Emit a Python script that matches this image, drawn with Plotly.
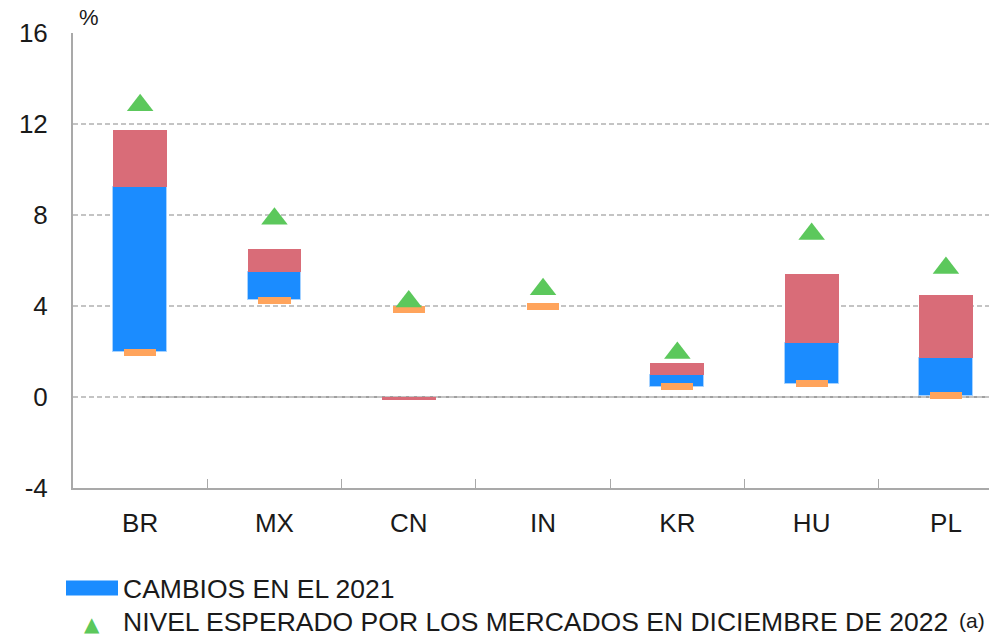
import plotly.graph_objects as go

# ---- data ----
paises = ["BR", "MX", "CN", "IN", "KR", "HU", "PL"]
base_barra = [1.98, 4.25, 0.0, 0.0, 0.44, 0.57, 0.06]          # where the floating bar starts
cambio_2021 = [7.25, 1.24, None, None, 0.53, 1.80, 1.67]        # blue
cambio_2022 = [2.51, 1.01, -0.15, None, 0.52, 3.04, 2.75]       # red
nivel_inicial = [1.97, 4.25, 3.85, 3.99, 0.46, 0.59, 0.07]      # orange dash
nivel_esperado = [12.82, 7.83, 4.20, 4.74, 1.93, 7.16, 5.67]    # green triangle
y_ticks = [-4, 0, 4, 8, 12, 16]

# ---- styling ----
OFF = 8                      # page body margin
W, H = 997 - OFF, 634 - OFF
ML, MR, MT = 73 - OFF, 0, 33 - OFF
MB = H - (488.4 - OFF)
FONT = "Liberation Sans"
TXT = "#1a1a1a"
BLUE = "#1b8cff"
RED = "#d96c78"
ORANGE = "#ffa45c"
GREEN = "#5cc85c"
GRID = "#c4c4c4"
AXIS = "#a9a9a9"

plot_w = W - ML - MR
plot_h = H - MT - MB


def paper(sx, sy):
    """screen pixel -> paper coords"""
    px, py = sx - OFF, sy - OFF
    return (px - ML) / plot_w, (H - MB - py) / plot_h


red_base = [b + (c or 0) for b, c in zip(base_barra, cambio_2021)]
orange_h = 0.3

fig = go.Figure()
fig.add_trace(go.Bar(
    x=paises, y=cambio_2021, base=base_barra, width=0.40,
    marker=dict(color=BLUE, line=dict(color="#a6d2ff", width=1)),
    name="CAMBIOS EN EL 2021", showlegend=False))
fig.add_trace(go.Bar(
    x=paises, y=cambio_2022, base=red_base, width=0.40,
    marker=dict(color=RED, line=dict(width=0)),
    name="CAMBIOS EN EL 2022", showlegend=False))
fig.add_trace(go.Bar(
    x=paises, y=[orange_h] * len(paises),
    base=[v - orange_h / 2 for v in nivel_inicial], width=0.24,
    marker=dict(color=ORANGE, line=dict(width=0)),
    name="NIVEL INICIAL", showlegend=False))
fig.add_trace(go.Scatter(
    x=paises, y=nivel_esperado, mode="markers",
    marker=dict(symbol="triangle-up", size=23, color=GREEN, line=dict(width=0)),
    name="NIVEL ESPERADO", showlegend=False))

# solid zero line starting at the first category
fig.add_shape(type="line", xref="x", yref="y", x0=0, x1=len(paises), y0=0, y1=0,
              line=dict(color="#a0a0a0", width=2), layer="below")

# legend (drawn manually)
x0, y0 = paper(66, 581)
x1, y1 = paper(118, 596)
fig.add_shape(type="rect", xref="paper", yref="paper", x0=x0, x1=x1, y0=y0, y1=y1,
              fillcolor=BLUE, line=dict(width=0))
ax, ay = paper(92, 624.5)
fig.add_annotation(xref="paper", yref="paper", x=ax, y=ay, text="▲", showarrow=False,
                   font=dict(family="DejaVu Sans", size=20, color=GREEN),
                   xanchor="center", yanchor="middle")
tx, ty = paper(121, 589)
fig.add_annotation(xref="paper", yref="paper", x=tx, y=ty, text="CAMBIOS EN EL 2021",
                   showarrow=False, font=dict(family=FONT, size=26.5, color=TXT),
                   xanchor="left", yanchor="middle")
tx, ty = paper(121, 623)
fig.add_annotation(xref="paper", yref="paper", x=tx, y=ty,
                   text="NIVEL ESPERADO POR LOS MERCADOS EN DICIEMBRE DE 2022",
                   showarrow=False, font=dict(family=FONT, size=26.5, color=TXT),
                   xanchor="left", yanchor="middle")
tx, ty = paper(957, 621)
fig.add_annotation(xref="paper", yref="paper", x=tx, y=ty, text="(a)",
                   showarrow=False, font=dict(family=FONT, size=21, color=TXT),
                   xanchor="left", yanchor="middle")
# unit label
tx, ty = paper(89, 17)
fig.add_annotation(xref="paper", yref="paper", x=tx, y=ty, text="%",
                   showarrow=False, font=dict(family=FONT, size=22, color=TXT),
                   xanchor="center", yanchor="middle")

fig.update_layout(
    width=W, height=H,
    margin=dict(l=ML, r=MR, t=MT, b=MB, pad=0),
    paper_bgcolor="white", plot_bgcolor="white",
    barmode="overlay", bargap=0,
    font=dict(family=FONT, size=26, color=TXT),
    showlegend=False,
    xaxis=dict(
        type="category", range=[-0.5, -0.5 + plot_w / 134.3],
        showgrid=False, showline=True, linecolor=AXIS, linewidth=2,
        ticks="inside", tickson="boundaries", ticklen=9, tickwidth=1, tickcolor=AXIS,
        tickfont=dict(size=26, color=TXT), ticklabelstandoff=11,
    ),
    yaxis=dict(
        range=[-4, 16], tickvals=y_ticks, ticktext=[str(v) for v in y_ticks],
        showgrid=True, gridcolor=GRID, gridwidth=1.5, griddash="5px,3px",
        zeroline=False, showline=True, linecolor=AXIS, linewidth=2,
        ticks="", tickfont=dict(size=26, color=TXT), ticklabelstandoff=18,
    ),
)

fig.write_html("out.html",
               post_script="document.documentElement.style.overflow='hidden';")
